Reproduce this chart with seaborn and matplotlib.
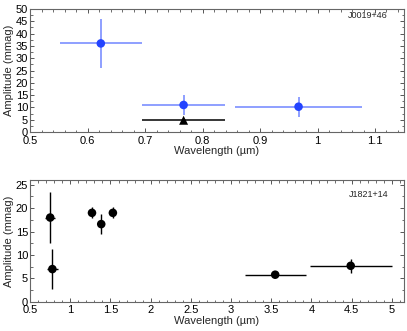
import numpy as np
import pandas as pd
import matplotlib
matplotlib.use('Agg')
import matplotlib.pyplot as plt
import seaborn as sns
from matplotlib.ticker import MultipleLocator, FormatStrFormatter

# J0019+46 (blue points + black triangle)
top_wl = [0.623, 0.767, 0.967]
top_amp = [36.0, 11.0, 10.3]
top_xerr = [0.071, 0.072, 0.110]
top_yerr = [10.0, 4.0, 4.0]
tri_wl = [0.767]
tri_amp = [4.8]
tri_xerr = [0.072]

# J1821+14
bot_wl = [0.75, 0.777, 1.27, 1.385, 1.53, 3.55, 4.49]
bot_amp = [18.0, 7.0, 19.0, 16.6, 19.0, 5.8, 7.7]
bot_xerr = [0.065, 0.07, 0.0, 0.0, 0.0, 0.38, 0.51]
bot_yerr = [5.5, 4.2, 1.2, 2.2, 1.2, 0.4, 1.5]

sns.set_style('ticks')
plt.rcParams['font.family'] = ['Liberation Sans', 'DejaVu Sans']
plt.rcParams['font.size'] = 8

fig = plt.figure(figsize=(4.07, 3.31), dpi=100)
ax1 = fig.add_axes([0.074, 0.601, 0.918, 0.372])
ax2 = fig.add_axes([0.074, 0.088, 0.918, 0.368])

blue = '#2444ff'

# top panel
ax1.errorbar(top_wl, top_amp, xerr=top_xerr, yerr=top_yerr, fmt='none',
             ecolor=blue, elinewidth=1.2, alpha=0.6, capsize=0, zorder=2)
ax1.errorbar(tri_wl, tri_amp, xerr=tri_xerr, fmt='none',
             ecolor='black', elinewidth=1.1, capsize=0, zorder=2)
sns.scatterplot(x=top_wl, y=top_amp, ax=ax1, color=blue, s=38,
                edgecolor='none', zorder=3)
sns.scatterplot(x=tri_wl, y=tri_amp, ax=ax1, color='black', marker='^',
                s=42, edgecolor='none', zorder=3)
ax1.set_xlim(0.5, 1.15)
ax1.set_ylim(0, 50)
ax1.xaxis.set_major_locator(MultipleLocator(0.1))
ax1.xaxis.set_minor_locator(MultipleLocator(0.02))
ax1.yaxis.set_major_locator(MultipleLocator(5))
ax1.yaxis.set_minor_locator(MultipleLocator(2.5))
ax1.xaxis.set_major_formatter(FormatStrFormatter('%g'))
ax1.text(0.958, 0.95, 'J0019+46', transform=ax1.transAxes,
         ha='right', va='center', fontsize=6.5)

# bottom panel
ax2.errorbar(bot_wl, bot_amp, xerr=bot_xerr, yerr=bot_yerr, fmt='none',
             ecolor='black', elinewidth=1.0, capsize=0, zorder=2)
sns.scatterplot(x=bot_wl, y=bot_amp, ax=ax2, color='black', s=38,
                edgecolor='none', zorder=3)
ax2.set_xlim(0.5, 5.15)
ax2.set_ylim(0, 26)
ax2.xaxis.set_major_locator(MultipleLocator(0.5))
ax2.xaxis.set_minor_locator(MultipleLocator(0.1))
ax2.yaxis.set_major_locator(MultipleLocator(5))
ax2.yaxis.set_minor_locator(MultipleLocator(2.5))
ax2.xaxis.set_major_formatter(FormatStrFormatter('%g'))
ax2.text(0.958, 0.885, 'J1821+14', transform=ax2.transAxes,
         ha='right', va='center', fontsize=6.5)

for ax in (ax1, ax2):
    ax.set_xlabel('Wavelength (µm)', fontsize=8, labelpad=0.5)
    ax.set_ylabel('Amplitude (mmag)', fontsize=8, labelpad=1)
    for sp in ax.spines.values():
        sp.set_visible(True)
        sp.set_color('#666666')
        sp.set_linewidth(0.8)
    ax.tick_params(which='both', direction='in', top=True, right=True,
                   colors='#555555', labelcolor='black', labelsize=8)
    ax.tick_params(axis='x', which='both', pad=2.5)
    ax.tick_params(axis='y', which='both', pad=1.5)
    ax.tick_params(which='major', length=3, width=0.7)
    ax.tick_params(which='minor', length=1.8, width=0.6)

fig.savefig('out.png', dpi=100)
